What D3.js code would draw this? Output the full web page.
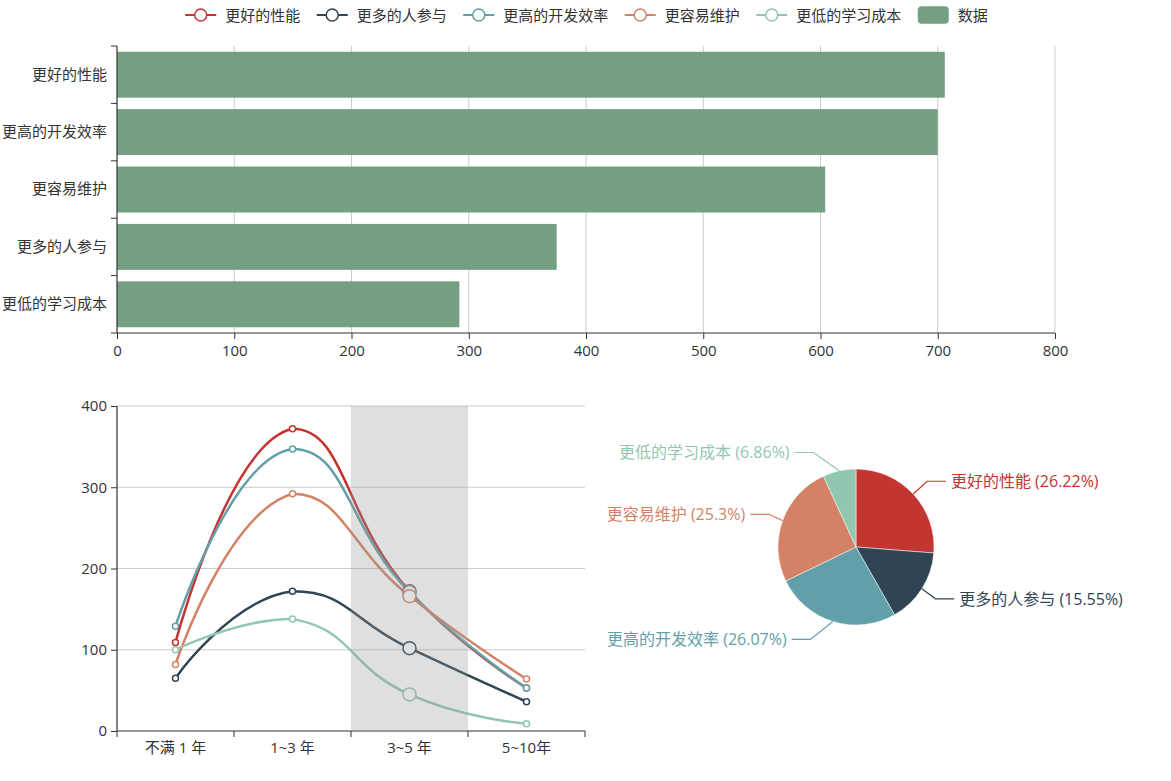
<!DOCTYPE html>
<html><head><meta charset="utf-8">
<script src="https://cdn.jsdelivr.net/npm/d3@7"></script>
<style>
body{margin:0;background:#fff}
svg{display:block}
text{font-family:"Open Sans","Noto Sans CJK SC","Microsoft YaHei",sans-serif}
</style>
</head><body>
<svg id="c" width="1171" height="781"></svg>
<script>
// ---------------- data ----------------
const seriesNames = ["更好的性能", "更多的人参与", "更高的开发效率", "更容易维护", "更低的学习成本"];
const seriesColors = ["#c23531", "#2f4554", "#61a0a8", "#d48265", "#91c7ae"];
const years = ["不满 1 年", "1~3 年", "3~5 年", "5~10年"];
const perfValues = [109, 372, 172, 53];
const peopleValues = [65, 172, 102, 36];
const efficiencyValues = [129, 347, 171, 53];
const maintainValues = [82, 292, 166, 64];
const learnValues = [100, 138, 45, 9];
const barCategories = ["更好的性能", "更高的开发效率", "更容易维护", "更多的人参与", "更低的学习成本"];
const barValues = [706, 700, 604, 375, 292];
const barTicks = [0, 100, 200, 300, 400, 500, 600, 700, 800];
const lineTicks = [0, 100, 200, 300, 400];
const highlightedYear = "3~5 年";
const barLegendName = "数据";
const barColor = "#749f83";

const FONT = '"Open Sans","Noto Sans CJK SC","Microsoft YaHei",sans-serif';
const lineSeries = [perfValues, peopleValues, efficiencyValues, maintainValues, learnValues]
  .map((vals, i) => ({name: seriesNames[i], color: seriesColors[i], values: vals}));
const hlIdx = years.indexOf(highlightedYear);
const pieData = lineSeries.map(s => ({name: s.name, color: s.color, value: s.values[hlIdx]}));

const svg = d3.select("#c");
const FS = 15;
const axisColor = "#333";
const gridColor = "#ccc";

// ---------------- legend ----------------
const legendItems = lineSeries.map(s => ({name: s.name, color: s.color, type: "line"}))
  .concat([{name: barLegendName, color: barColor, type: "bar"}]);
const lg = svg.append("g");
const iconW = 31, iconGap = 9, itemGap = 16.5, legendY = 15;
const widths = legendItems.map(d => {
  const t = lg.append("text").attr("font-size", FS).text(d.name);
  const w = t.node().getComputedTextLength(); t.remove(); return w;
});
const totalW = d3.sum(widths) + legendItems.length * (iconW + iconGap) + (legendItems.length - 1) * itemGap;
let lx = 586.5 - totalW / 2;
legendItems.forEach((d, i) => {
  const g = lg.append("g").attr("transform", `translate(${lx},${legendY})`);
  if (d.type === "line") {
    g.append("line").attr("x1", 0).attr("x2", iconW).attr("y1", 0).attr("y2", 0)
      .attr("stroke", d.color).attr("stroke-width", 2);
    g.append("circle").attr("cx", iconW / 2).attr("cy", 0).attr("r", 6)
      .attr("fill", "#fff").attr("stroke", d.color).attr("stroke-width", 1.5);
  } else {
    g.append("rect").attr("x", 0).attr("y", -8.75).attr("width", iconW).attr("height", 17.5)
      .attr("rx", 4).attr("fill", d.color);
  }
  g.append("text").attr("x", iconW + iconGap).attr("y", 0).attr("dominant-baseline", "central")
    .attr("font-size", FS).attr("fill", "#333").text(d.name);
  lx += iconW + iconGap + widths[i] + itemGap;
});

// ---------------- bar chart ----------------
const bx = d3.scaleLinear().domain([0, 800]).range([117, 1055]);
const by = d3.scaleBand().domain(barCategories).range([46, 333]).paddingInner(0.2).paddingOuter(0.1);
const byOuter = d3.scaleBand().domain(barCategories).range([46, 333]);
const bg = svg.append("g");
bg.selectAll(".vg").data(barTicks.filter(t => t > 0)).join("line")
  .attr("x1", d => bx(d)).attr("x2", d => bx(d)).attr("y1", 46).attr("y2", 333)
  .attr("stroke", gridColor).attr("stroke-width", 1);
bg.selectAll(".bar").data(barCategories).join("rect")
  .attr("x", bx(0)).attr("y", d => by(d))
  .attr("width", (d, i) => bx(barValues[i]) - bx(0)).attr("height", by.bandwidth())
  .attr("fill", barColor);
const bxAxis = bg.append("g").attr("transform", "translate(0,333)")
  .call(d3.axisBottom(bx).tickValues(barTicks).tickSize(6).tickPadding(6));
const byAxis = bg.append("g").attr("transform", "translate(117,0)")
  .call(d3.axisLeft(byOuter).tickSize(0).tickPadding(10));
byAxis.selectAll(".tickb").data(barCategories.concat(["_end"])).join("line")
  .attr("x1", 0).attr("x2", -6)
  .attr("y1", (d, i) => i < barCategories.length ? byOuter(d) : 333)
  .attr("y2", (d, i) => i < barCategories.length ? byOuter(d) : 333)
  .attr("stroke", axisColor);

// ---------------- line chart ----------------
const lxs = d3.scaleBand().domain(years).range([117, 585]);
const ly = d3.scaleLinear().domain([0, 400]).range([731, 406]);
const lgp = svg.append("g");
lgp.selectAll(".hg").data(lineTicks.filter(t => t > 0)).join("line")
  .attr("x1", 117).attr("x2", 585).attr("y1", d => ly(d)).attr("y2", d => ly(d))
  .attr("stroke", gridColor);
const lyAxis = lgp.append("g").attr("transform", "translate(117,0)")
  .call(d3.axisLeft(ly).tickValues(lineTicks).tickSize(6).tickPadding(4));
const lxAxis = lgp.append("g").attr("transform", "translate(0,731)")
  .call(d3.axisBottom(lxs).tickSize(0).tickPadding(11));
lxAxis.selectAll(".tickx").data(d3.range(years.length + 1)).join("line")
  .attr("x1", i => 117 + i * lxs.step()).attr("x2", i => 117 + i * lxs.step())
  .attr("y1", 0).attr("y2", 6).attr("stroke", axisColor);

function echartsSmooth(pts, smooth) {
  const mn = [d3.min(pts, p => p[0]), d3.min(pts, p => p[1])];
  const mx = [d3.max(pts, p => p[0]), d3.max(pts, p => p[1])];
  const clamp = c => [Math.max(mn[0], Math.min(mx[0], c[0])), Math.max(mn[1], Math.min(mx[1], c[1]))];
  const cps = [];
  for (let i = 0; i < pts.length; i++) {
    const p = pts[i];
    if (i === 0 || i === pts.length - 1) { cps.push([p[0], p[1]]); continue; }
    const prev = pts[i - 1], next = pts[i + 1];
    const v = [(next[0] - prev[0]) * smooth, (next[1] - prev[1]) * smooth];
    let d0 = Math.hypot(p[0] - prev[0], p[1] - prev[1]);
    let d1 = Math.hypot(p[0] - next[0], p[1] - next[1]);
    const s = d0 + d1; if (s) { d0 /= s; d1 /= s; }
    cps.push(clamp([p[0] - v[0] * d0, p[1] - v[1] * d0]));
    cps.push(clamp([p[0] + v[0] * d1, p[1] + v[1] * d1]));
  }
  const path = d3.path();
  path.moveTo(pts[0][0], pts[0][1]);
  for (let i = 1; i < pts.length; i++) {
    const c1 = cps[2 * (i - 1)], c2 = cps[2 * (i - 1) + 1];
    path.bezierCurveTo(c1[0], c1[1], c2[0], c2[1], pts[i][0], pts[i][1]);
  }
  return path.toString();
}

const cx = y => lxs(y) + lxs.bandwidth() / 2;
lineSeries.forEach(s => {
  const pts = s.values.map((v, i) => [cx(years[i]), ly(v)]);
  lgp.append("path").attr("d", echartsSmooth(pts, 0.5)).attr("fill", "none")
    .attr("stroke", s.color).attr("stroke-width", 2.5);
});
lineSeries.forEach(s => {
  lgp.selectAll(null).data(s.values).join("circle")
    .attr("cx", (v, i) => cx(years[i])).attr("cy", v => ly(v))
    .attr("r", (v, i) => i === hlIdx ? 6.5 : 3)
    .attr("fill", "#fff").attr("stroke", s.color).attr("stroke-width", 1.5);
});
lgp.append("rect").attr("x", lxs(highlightedYear)).attr("y", 406)
  .attr("width", lxs.bandwidth()).attr("height", 731 - 406)
  .attr("fill", "rgba(150,150,150,0.3)");

[bxAxis, byAxis, lyAxis, lxAxis].forEach(a => {
  a.selectAll(".domain").attr("stroke", axisColor).attr("stroke-width", 1.2);
  a.selectAll(".tick line").attr("stroke", axisColor);
  a.selectAll("text").attr("font-size", FS).attr("fill", "#333").attr("font-family", FONT);
});
byAxis.select(".domain").attr("d", "M0,46V333");
lyAxis.select(".domain").attr("d", "M0,406V731");
lxAxis.select(".domain").attr("d", "M117,0H585");
bxAxis.select(".domain").attr("d", "M117,0H1055");

// ---------------- pie ----------------
const pcx = 856, pcy = 547, R = 78, len1 = 18.75, len2 = 18.75, labelDist = 5;
const pie = d3.pie().value(d => d.value).sort(null);
const arcs = pie(pieData);
const total = d3.sum(pieData, d => d.value);
const arcGen = d3.arc().innerRadius(0).outerRadius(R);
const pg = svg.append("g").attr("transform", `translate(${pcx},${pcy})`);
pg.selectAll("path").data(arcs).join("path").attr("d", arcGen)
  .attr("fill", d => d.data.color).attr("stroke", "#fff").attr("stroke-width", 0.5);

const labels = arcs.map(a => {
  const mid = (a.startAngle + a.endAngle) / 2;
  const dx = Math.sin(mid), dy = -Math.cos(mid);
  const x1 = pcx + R * dx, y1 = pcy + R * dy;
  const x2 = x1 + dx * len1, y2 = y1 + dy * len1;
  const dir = dx < 0 ? -1 : 1;
  const x3 = x2 + dir * len2;
  return {a, dir, x1, y1, x2, y2, x3, y: y2, x: x3 + dir * labelDist};
});
const RR = R + len1 + len2;
[1, -1].forEach(dir => {
  const side = labels.filter(l => l.dir === dir).sort((p, q) => p.y - q.y);
  const up = side.filter(l => l.y < pcy), down = side.filter(l => l.y >= pcy);
  [[up, false], [down, true]].forEach(([list, isDown]) => {
    let last = isDown ? Number.MAX_VALUE : 0;
    list.forEach(l => {
      const ddy = Math.abs(l.y - pcy);
      let ddx = ddy < R + len1 ? Math.sqrt(RR * RR - ddy * ddy) : Math.abs(l.x - pcx);
      if (isDown && ddx >= last) ddx = last - 10;
      if (!isDown && ddx <= last) ddx = last + 10;
      l.x = pcx + ddx * dir;
      last = ddx;
    });
  });
  side.forEach(l => {
    const dist = l.x2 - l.x3;
    l.x3 = l.x - dir * labelDist;
    l.x2 = l.x3 + dist;
  });
});
labels.forEach(l => {
  const c = l.a.data.color;
  svg.append("polyline")
    .attr("points", [[l.x1, l.y1], [l.x2, l.y], [l.x3, l.y]].map(p => p.join(",")).join(" "))
    .attr("fill", "none").attr("stroke", c).attr("stroke-width", 1.2);
  const pct = +(l.a.data.value / total * 100).toFixed(2);
  svg.append("text").attr("x", l.x).attr("y", l.y).attr("dominant-baseline", "central")
    .attr("text-anchor", l.dir > 0 ? "start" : "end").attr("font-size", 16).attr("fill", c)
    .text(`${l.a.data.name} (${pct}%)`);
});
</script>
</body></html>
